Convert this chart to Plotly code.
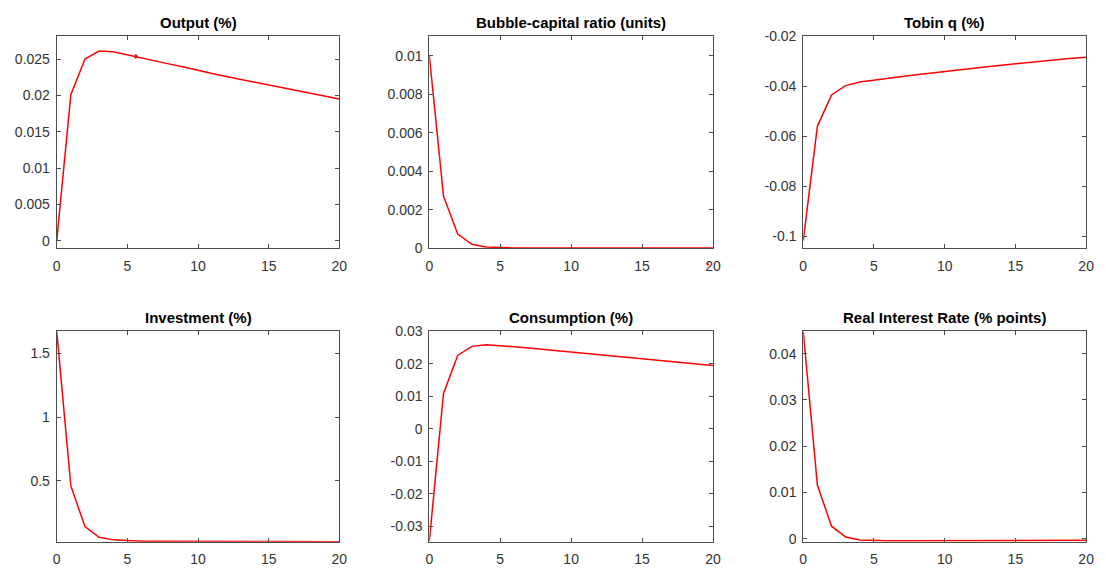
import plotly.graph_objects as go

periods = list(range(21))

titles = ["Output (%)", "Bubble-capital ratio (units)", "Tobin q (%)",
          "Investment (%)", "Consumption (%)", "Real Interest Rate (% points)"]

output = [0.0, 0.0201, 0.0250, 0.0261, 0.0260, 0.02555, 0.0251, 0.0247, 0.0243, 0.0239,
          0.0234, 0.0230, 0.0226, 0.0222, 0.0218, 0.0214, 0.0210, 0.0206, 0.0202, 0.0198, 0.0195]
bubble = [0.0100, 0.0027, 0.00073, 0.0002, 0.00006, 0.00002, 0.000006, 0.000002, 0.0, 0.0,
          0.0, 0.0, 0.0, 0.0, 0.0, 0.0, 0.0, 0.0, 0.0, 0.0, 0.0]
tobin = [-0.1018, -0.0560, -0.0434, -0.0397, -0.0382, -0.0374, -0.0367, -0.0360, -0.0353, -0.0346,
         -0.0339, -0.0333, -0.0327, -0.0321, -0.0315, -0.0309, -0.0303, -0.0297, -0.0292, -0.0287, -0.0283]
investment = [1.673, 0.460, 0.140, 0.056, 0.036, 0.029, 0.026, 0.025, 0.024, 0.024,
              0.0235, 0.023, 0.023, 0.0228, 0.0226, 0.0224, 0.0222, 0.022, 0.0219, 0.0218, 0.0216]
consumption = [-0.0345, 0.0109, 0.0226, 0.0254, 0.0259, 0.0257, 0.0253, 0.0249, 0.0245, 0.0241,
               0.0236, 0.0232, 0.0228, 0.0224, 0.0220, 0.0215, 0.0211, 0.0207, 0.0203, 0.0199, 0.0195]
real_rate = [0.0448, 0.0116, 0.0027, 0.00035, -0.00028, -0.0004, -0.00042, -0.00042, -0.00042, -0.00042,
             -0.00041, -0.00041, -0.0004, -0.0004, -0.0004, -0.00039, -0.00039, -0.00038, -0.00038, -0.00037, -0.00036]

series = [output, bubble, tobin, investment, consumption, real_rate]

# stray data-tip style markers visible in the reference
output_marker_x = [5.6]
output_marker_y = [0.02535]
bubble_marker_x = [19.66]
bubble_marker_y = [-0.0008]

y_ranges = [[-0.001, 0.0281], [0, 0.011], [-0.1048, -0.02],
            [0.0216, 1.673], [-0.0347, 0.03], [-0.00065, 0.0448]]
y_tickvals = [[0, 0.005, 0.01, 0.015, 0.02, 0.025],
              [0, 0.002, 0.004, 0.006, 0.008, 0.01],
              [-0.1, -0.08, -0.06, -0.04, -0.02],
              [0.5, 1, 1.5],
              [-0.03, -0.02, -0.01, 0, 0.01, 0.02, 0.03],
              [0, 0.01, 0.02, 0.03, 0.04]]
y_ticktext = [["0", "0.005", "0.01", "0.015", "0.02", "0.025"],
              ["0", "0.002", "0.004", "0.006", "0.008", "0.01"],
              ["-0.1", "-0.08", "-0.06", "-0.04", "-0.02"],
              ["0.5", "1", "1.5"],
              ["-0.03", "-0.02", "-0.01", "0", "0.01", "0.02", "0.03"],
              ["0", "0.01", "0.02", "0.03", "0.04"]]
x_tickvals = [0, 5, 10, 15, 20]
x_ticktext = ["0", "5", "10", "15", "20"]

W, H = 1106, 574
col_px = [(53.3, 339.0), (430.0, 716.7), (808.0, 1094.0)]
row_px = [(29.3, 247.0), (332.7, 549.0)]

fig = go.Figure()
layout = dict(width=W, height=H, margin=dict(l=0, r=0, t=0, b=0),
              paper_bgcolor="white", plot_bgcolor="white", showlegend=False,
              font=dict(family="Liberation Sans, Arial, sans-serif", size=14, color="#333333"))
annotations = []
RED = "#ff0000"
AX = "#4d4d4d"

for i in range(6):
    r, c = divmod(i, 3)
    n = i + 1
    xa = "x" if n == 1 else f"x{n}"
    ya = "y" if n == 1 else f"y{n}"
    fig.add_trace(go.Scatter(x=periods, y=series[i], mode="lines",
                             line=dict(color=RED, width=1.5), xaxis=xa, yaxis=ya))
    x0, x1 = col_px[c]
    y0, y1 = row_px[r]
    common = dict(showgrid=False, zeroline=False, showline=True, mirror="ticks",
                  linecolor=AX, linewidth=1, ticks="inside", ticklen=4, tickcolor=AX,
                  tickfont=dict(size=14, color="#333333"))
    layout["xaxis" + ("" if n == 1 else str(n))] = dict(
        domain=[x0 / W, x1 / W], anchor=ya, range=[0, 20],
        tickmode="array", tickvals=x_tickvals, ticktext=x_ticktext,
        ticklabelstandoff=5, **common)
    layout["yaxis" + ("" if n == 1 else str(n))] = dict(
        domain=[1 - y1 / H, 1 - y0 / H], anchor=xa, range=y_ranges[i],
        tickmode="array", tickvals=y_tickvals[i], ticktext=y_ticktext[i],
        ticklabelstandoff=3, **common)
    annotations.append(dict(text="<b>" + titles[i] + "</b>", xref="paper", yref="paper",
                            x=(x0 + x1) / 2 / W, y=1 - (y0 - 4) / H, xanchor="center",
                            yanchor="bottom", showarrow=False,
                            font=dict(size=15, color="#000000")))

fig.add_trace(go.Scatter(x=output_marker_x, y=output_marker_y, mode="markers",
                         marker=dict(color="#d62020", size=4, symbol="diamond"),
                         xaxis="x", yaxis="y"))

# marker lies below the axis (outside the plot area): place it with a domain-referenced y
ylo, yhi = y_ranges[1]
for bx, by in zip(bubble_marker_x, bubble_marker_y):
    annotations.append(dict(text="●", xref="x2", yref="y2 domain", x=bx,
                            y=(by - ylo) / (yhi - ylo),
                            xanchor="center", yanchor="middle", showarrow=False,
                            font=dict(size=6, color="#e01010")))

layout["annotations"] = annotations
fig.update_layout(**layout)
fig.write_html("out.html")
